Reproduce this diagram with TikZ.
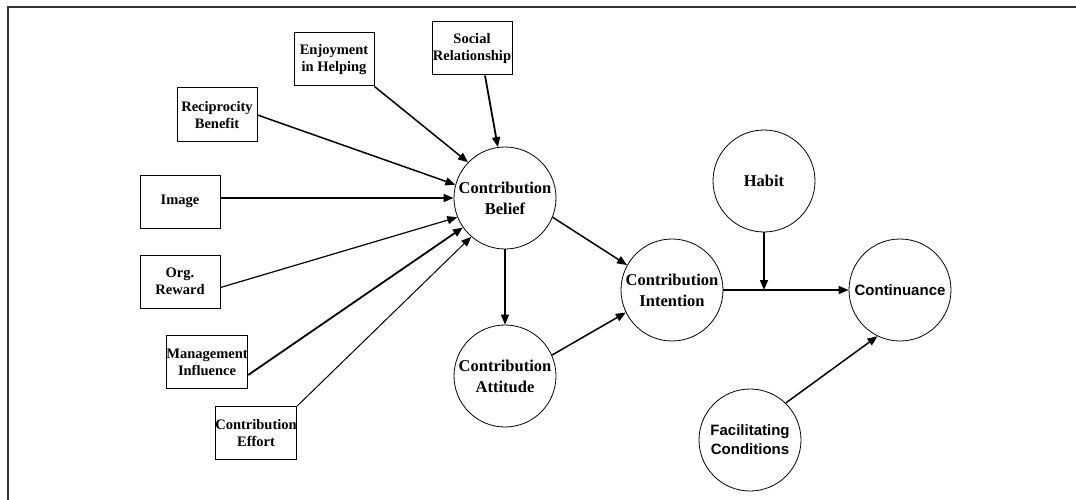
\documentclass[tikz,border=0pt]{standalone}
\usepackage{fontspec}
\setmainfont{Liberation Serif}
\newfontfamily\sansf{Liberation Sans}
\usetikzlibrary{arrows.meta}
\begin{document}
\begin{tikzpicture}[x=1pt,y=-1pt,
  boxnode/.style={draw, line width=1pt, minimum width=80pt, minimum height=53pt, inner sep=0pt, align=center,
    font=\fontsize{14.5}{17}\selectfont\bfseries},
  circnode/.style={draw, circle, line width=0.8pt, minimum size=102pt, inner sep=0pt, align=center,
    font=\fontsize{16.5}{21}\selectfont\bfseries},
  sanscirc/.style={circnode, font=\fontsize{15}{19}\selectfont\sansf\bfseries},
  arr/.style={line width=1.5pt, -{Triangle[length=10pt,width=8pt]}},
  thinarr/.style={line width=1pt, -{Triangle[length=10pt,width=8pt]}}
]
\useasboundingbox (0,0) rectangle (1076,500);
\draw[line width=2pt, black!80] (1076,7.5) -- (8,7.5) -- (8,500);

% boxes
\node[boxnode] (enj) at (334,59.5) {Enjoyment\\in Helping};
\node[boxnode] (soc) at (472,48.5) {Social\\Relationship};
\node[boxnode, minimum height=54pt] (rec) at (217,115) {Reciprocity\\Benefit};
\node[boxnode] (img) at (180,201.5) {Image};
\node[boxnode] (org) at (180,281.5) {Org.\\Reward};
\node[boxnode] (mgmt) at (207,362) {Management\\Influence};
\node[boxnode] (eff) at (256,433) {Contribution\\Effort};

% circles
\node[circnode] (bel) at (505,198) {Contribution\\Belief};
\node[circnode] (att) at (505,376) {Contribution\\Attitude};
\node[circnode] (int) at (672,290) {Contribution\\Intention};
\node[circnode] (hab) at (764,181) {Habit};
\node[sanscirc] (con) at (900,290) {Continuance};
\node[sanscirc] (fac) at (750,440) {Facilitating\\Conditions};
\coordinate (j) at (hab |- int);

% arrows into belief
\draw[arr, line width=1.8pt] ([xshift=13pt]soc.south) -- (bel.98);
\draw[arr] (enj.south east) -- (bel.136);
\draw[arr] (rec.east) -- (bel.165);
\draw[arr] (img.east |- bel) -- (bel.180);
\draw[thinarr, line width=1.2pt] ([yshift=-6pt]org.east) -- (bel.202);
\draw[arr, line width=1.8pt] ([yshift=-13pt]mgmt.east) -- (bel.215);
\draw[thinarr] (eff.north east) -- (bel.229);

% other arrows
\draw[arr] (bel.south) -- (att.north);
\draw[arr] (bel.-22) -- (int.151);
\draw[arr] (att.24) -- (int.206);
\draw[arr] (int.east) -- (con.west);
\draw[arr] (hab.south) -- (j);
\draw[arr] (fac.46) -- (con.244);
\end{tikzpicture}
\end{document}
